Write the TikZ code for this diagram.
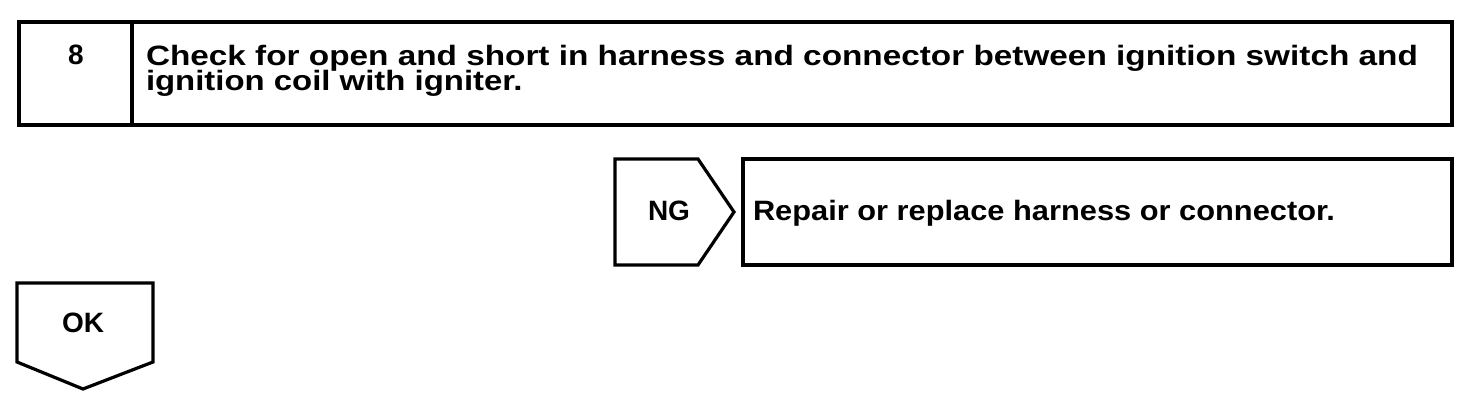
\documentclass[tikz,border=0pt]{standalone}
\usepackage{fontspec}
\setmainfont{Liberation Sans}
\tikzset{
  box/.style={draw=black, line width=2.4pt, line join=miter},
  lbl/.style={inner sep=0pt, outer sep=0pt, font=\bfseries\fontsize{21pt}{20pt}\selectfont},
}
\begin{document}
\begin{tikzpicture}[x=0.75pt,y=-0.75pt]
\useasboundingbox (0,0) rectangle (1472,402);
% top box
\draw[box] (19,22) rectangle (1452,125);
\draw[box] (132,22) -- (132,125);
\node[lbl, anchor=base] (num) at (76,65) {8};
\node[lbl, anchor=base west] (t1) at (146,66) {\scalebox{1.19}[1]{Check for open and short in harness and connector between ignition switch and}};
\node[lbl, anchor=base west] (t2) at (146,91) {\scalebox{1.175}[1]{ignition coil with igniter.}};
% NG
\draw[box] (615,159) -- (698,159) -- (734,212) -- (698,265) -- (615,265) -- cycle;
\node[lbl, anchor=base] (ng) at (669,221) {NG};
\draw[box] (743,159) rectangle (1452,265);
\node[lbl, anchor=base west] (rep) at (753,221) {\scalebox{1.10}[1]{Repair or replace harness or connector.}};
% OK
\draw[box] (17,283) -- (153,283) -- (153,362) -- (83,389) -- (17,362) -- cycle;
\node[lbl, anchor=base] (ok) at (83,333) {OK};
\end{tikzpicture}
\end{document}
